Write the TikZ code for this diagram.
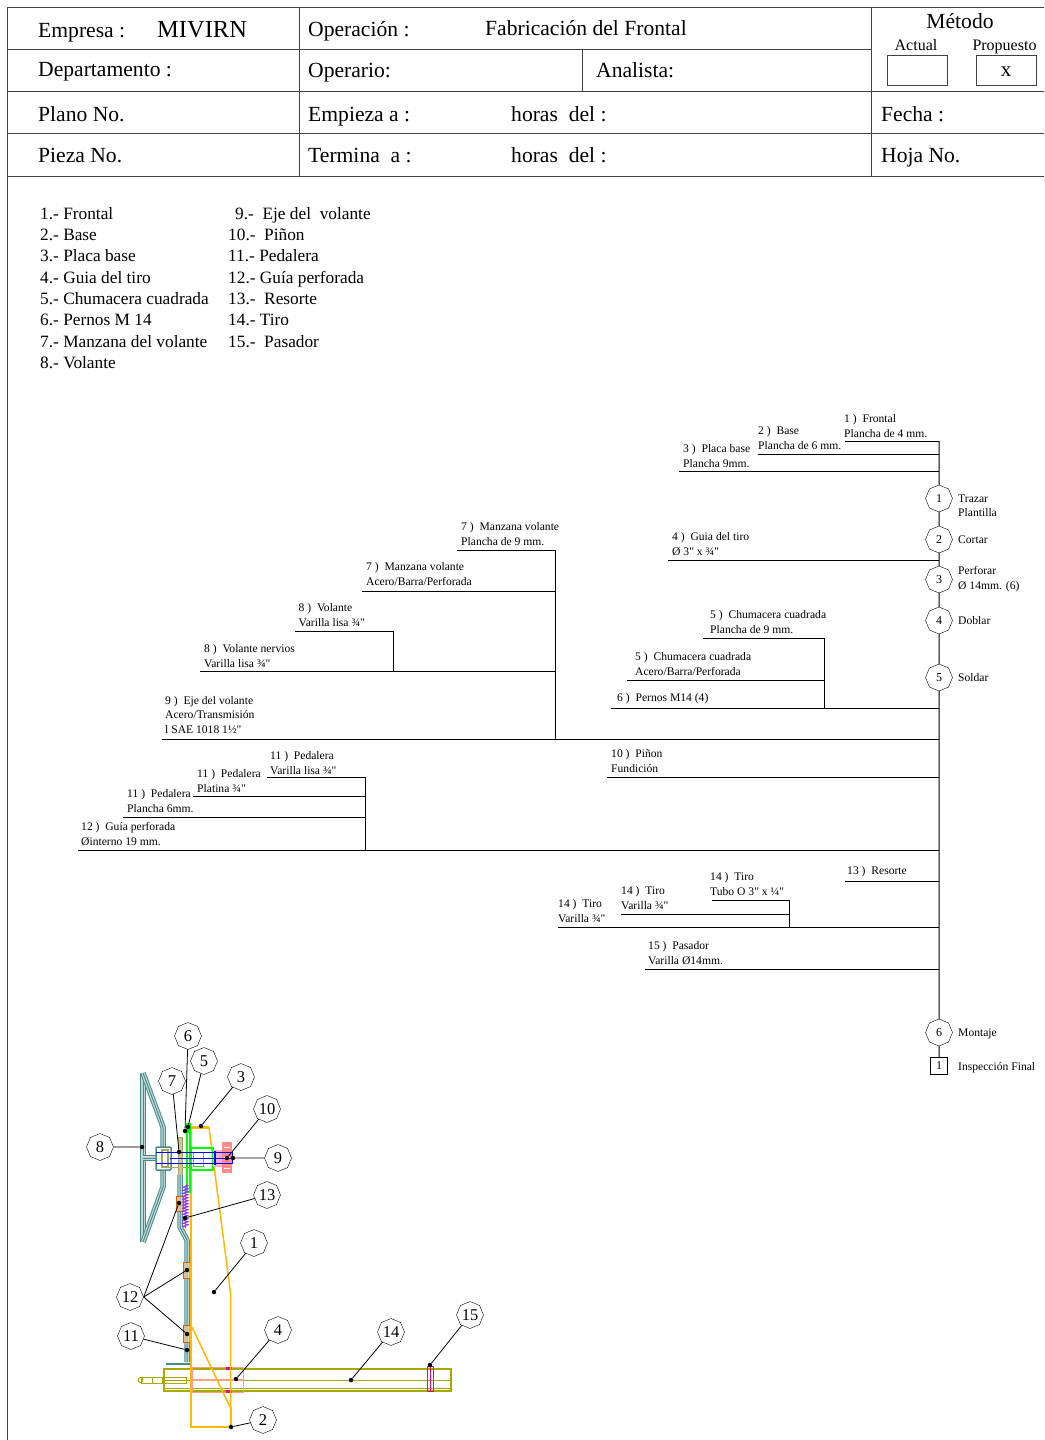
\documentclass[tikz,border=0pt]{standalone}
\usepackage{fontspec}
\setmainfont[Ligatures=TeXOff]{Liberation Serif}
\usetikzlibrary{shapes.geometric,decorations.pathmorphing}
\definecolor{naranja}{HTML}{FFB900}
\definecolor{verdeazul}{HTML}{4A8C8C}
\definecolor{oliva}{HTML}{A8A800}
\definecolor{olivaclaro}{HTML}{A5A560}
\definecolor{salmon}{HTML}{FFA080}
\definecolor{rojizo}{HTML}{FF8A8A}
\definecolor{rosado}{HTML}{FFB0D8}
\definecolor{resorte}{HTML}{9A30F0}
\newcommand{\riel}[2][5.5pt]{%
    \draw[verdeazul, line width=#1, line join=round] #2;
    \draw[verdeazul!35, line width=#1-2pt, line join=round] #2;
    \draw[verdeazul, line width=1pt, line join=round] #2;}
\tikzset{
    celda/.style={draw=black!75, line width=1pt},
    cab/.style={anchor=base west, inner sep=0pt, font=\fontsize{21.6}{24}\selectfont},
    titulo/.style={anchor=base, inner sep=0pt, font=\fontsize{16}{18}\selectfont},
    lista/.style={anchor=base west, inner sep=0pt, font=\fontsize{17.3}{20}\selectfont},
    etq/.style={anchor=west, inner sep=0pt, align=left, font=\fontsize{11.6}{14.5}\selectfont},
    oper/.style={draw, regular polygon, regular polygon sides=8, shape border rotate=22.5, minimum size=27pt, inner sep=0pt, fill=white, font=\fontsize{12}{14}\selectfont},
    marca/.style={draw, regular polygon, regular polygon sides=8, shape border rotate=22.5, minimum size=27pt, inner sep=0pt, font=\fontsize{16.5}{18}\selectfont},
    pto/.style={circle, fill=black, inner sep=0pt, minimum size=4.5pt},
    guia/.style={draw=black, line width=0.8pt},
    flujo/.style={draw=black, line width=1pt}
}
\begin{document}
\begin{tikzpicture}[x=1pt, y=-1pt]
    \useasboundingbox (0,0) rectangle (1044,1440);

    % Cuadricula de la cabecera
    \draw[celda] (1044,7) -- (7,7) -- (7,1440);
    \draw[celda] (7,49) -- (871,49);
    \draw[celda] (7,91) -- (1044,91);
    \draw[celda] (7,133) -- (1044,133);
    \draw[celda] (7,176) -- (1044,176);
    \draw[celda] (299,7) -- (299,176);
    \draw[celda] (871,7) -- (871,176);
    \draw[celda] (582,49) -- (582,91);

    % Textos de la cabecera
    \node[cab] (tEmpresa) at (38,37) {Empresa :};
    \node[cab, font=\fontsize{24.5}{26}\selectfont] (tMivirn) at (157,37) {MIVIRN};
    \node[cab] (tOperacion) at (308,36) {Operación :};
    \node[cab] (tFabrica) at (485,35) {Fabricación del Frontal};
    \node[cab, anchor=base] (tMetodo) at (960,28) {Método};
    \node[titulo] (tActual) at (916,50) {Actual};
    \node[titulo] (tProp) at (1004.5,50) {Propuesto};
    \node[draw=black!75, minimum width=60pt, minimum height=30pt, inner sep=0pt] (bActual) at (917,70) {};
    \node[draw=black!75, minimum width=60pt, minimum height=30pt, inner sep=0pt] (bProp) at (1006,70) {};
    \node[anchor=base, inner sep=0pt, font=\fontsize{21}{22}\selectfont] (tEquis) at (1006,76.5) {x};
    \node[cab] (tDepto) at (38,76) {Departamento :};
    \node[cab] (tOperario) at (308,77) {Operario:};
    \node[cab] (tAnalista) at (596,77) {Analista:};
    \node[cab] (tPlano) at (38,121) {Plano No.};
    \node[cab] (tEmpieza) at (308,121) {Empieza a :};
    \node[cab] (tHoras) at (511,121) {horas\ \ del :};
    \node[cab] (tFecha) at (881,121) {Fecha :};
    \node[cab] (tPieza) at (38,162) {Pieza No.};
    \node[cab] (tTermina) at (308,162) {Termina\ \ a :};
    \node[cab] (tHorasb) at (511,162) {horas\ \ del :};
    \node[cab] (tHoja) at (881,162) {Hoja No.};

    % Lista de piezas
    \foreach \n/\x/\y/\t in {a/40/219/{1.- Frontal}, b/40/240/{2.- Base}, c/40/261/{3.- Placa base}, d/40/283/{4.- Guia del tiro},
        e/40/304/{5.- Chumacera cuadrada}, f/40/325/{6.- Pernos M 14}, g/40/347/{7.- Manzana del volante}, h/40/368/{8.- Volante},
        i/235/219/{9.-\ \ Eje del\ \ volante}, j/228/240/{10.-\ \ Piñon}, k/228/261/{11.- Pedalera}, l/228/283/{12.- Guía perforada},
        m/228/304/{13.-\ \ Resorte}, n/228/325/{14.- Tiro}, o/228/347/{15.-\ \ Pasador}}
        \node[lista] (p\n) at (\x,\y) {\t};

    % Operaciones sobre el tronco
    \coordinate (arranque) at (939,441);
    \node[oper] (op1) at (939,498.5) {1};
    \node[oper] (op2) at (939,539.5) {2};
    \node[oper] (op3) at (939,579.5) {3};
    \node[oper] (op4) at (939,620.5) {4};
    \node[oper] (op5) at (939,677.5) {5};
    \node[oper] (op6) at (939,1032.5) {6};
    \node[draw, minimum size=17pt, inner sep=0pt, font=\fontsize{12}{14}\selectfont] (insp) at (939,1065.5) {1};
    \draw[flujo] (arranque) -- (op1);
    \draw[flujo] (op1) -- (op2);
    \draw[flujo] (op2) -- (op3);
    \draw[flujo] (op3) -- (op4);
    \draw[flujo] (op4) -- (op5);
    \draw[flujo] (op5) -- (op6);
    \draw[flujo] (op6) -- (insp);

    \node[etq] (oTrazar) at (958,506) {Trazar\\Plantilla};
    \node[etq] (oCortar) at (958,540) {Cortar};
    \node[etq] (oPerforar) at (958,579) {Perforar\\Ø 14mm. (6)};
    \node[etq] (oDoblar) at (958,621) {Doblar};
    \node[etq] (oSoldar) at (958,678) {Soldar};
    \node[etq] (oMontaje) at (958,1034) {Montaje};
    \node[etq] (oInsp) at (958,1068) {Inspección Final};

    % Extremos libres de las lineas de material
    \coordinate (m1) at (845,441);
    \coordinate (m2) at (758,454);
    \coordinate (m3) at (679,471);
    \coordinate (m4) at (668,560);
    \coordinate (m5) at (703,638);
    \coordinate (m5b) at (627,680);
    \coordinate (m6) at (611,708);
    \coordinate (m7) at (457,550);
    \coordinate (m7b) at (362,591);
    \coordinate (m8) at (295,631);
    \coordinate (m8b) at (200,671);
    \coordinate (m9) at (162,739);
    \coordinate (m10) at (607,777);
    \coordinate (m11) at (267,777);
    \coordinate (m11b) at (193,796);
    \coordinate (m11c) at (123,817);
    \coordinate (m12) at (78,850);
    \coordinate (m13) at (845,881);
    \coordinate (m14) at (712,900);
    \coordinate (m14b) at (621,914);
    \coordinate (m14c) at (558,927);
    \coordinate (m15) at (645,969);

    % Ramales que llegan al tronco
    \foreach \m in {m1,m2,m3,m4,m6,m9,m10,m12,m13,m14c,m15}
        \draw[flujo] (\m) -- (\m -| op1);

    % Sub-ramales
    \coordinate (r5) at (824,638);
    \coordinate (r7) at (555,550);
    \coordinate (r8) at (393,631);
    \coordinate (r11) at (365,777);
    \coordinate (r14) at (789,900);
    \draw[flujo] (m5) -- (r5) -- (r5 |- m6);
    \draw[flujo] (m5b) -- (m5b -| r5);
    \draw[flujo] (m7) -- (r7) -- (r7 |- m9);
    \draw[flujo] (m7b) -- (m7b -| r7);
    \draw[flujo] (m8) -- (r8) -- (r8 |- m8b);
    \draw[flujo] (m8b) -- (m8b -| r7);
    \draw[flujo] (m11) -- (r11) -- (r11 |- m12);
    \draw[flujo] (m11b) -- (m11b -| r11);
    \draw[flujo] (m11c) -- (m11c -| r11);
    \draw[flujo] (m14) -- (r14) -- (r14 |- m14c);
    \draw[flujo] (m14b) -- (m14b -| r14);

    % Rotulos de los materiales
    \node[etq] (e1) at (844,426) {1 ) \ Frontal\\Plancha de 4 mm.};
    \node[etq] (e2) at (758,438) {2 ) \ Base\\Plancha de 6 mm.};
    \node[etq] (e3) at (683,456) {3 ) \ Placa base\\Plancha 9mm.};
    \node[etq] (e4) at (672,544) {4 ) \ Guia del tiro\\Ø 3" x ¾"};
    \node[etq] (e5) at (710,622) {5 ) \ Chumacera cuadrada\\Plancha de 9 mm.};
    \node[etq] (e5b) at (635,664) {5 ) \ Chumacera cuadrada\\Acero/Barra/Perforada};
    \node[etq] (e6) at (617,699) {6 ) \ Pernos M14 (4)};
    \node[etq] (e7) at (461,534) {7 ) \ Manzana volante\\Plancha de 9 mm.};
    \node[etq] (e7b) at (366,574) {7 ) \ Manzana volante\\Acero/Barra/Perforada};
    \node[etq] (e8) at (298.5,615) {8 ) \ Volante\\Varilla lisa ¾"};
    \node[etq] (e8b) at (204,656) {8 ) \ Volante nervios\\Varilla lisa ¾"};
    \node[etq] (e9) at (165,715) {9 ) \ Eje del volante\\Acero/Transmisión\\l SAE 1018 1½"};
    \node[etq] (e10) at (611,761) {10 ) \ Piñon\\Fundición};
    \node[etq] (e11) at (270,763) {11 ) \ Pedalera\\Varilla lisa ¾"};
    \node[etq] (e11b) at (197,781) {11 ) \ Pedalera\\Platina ¾"};
    \node[etq] (e11c) at (127,801) {11 ) \ Pedalera\\Plancha 6mm.};
    \node[etq] (e12) at (81,834) {12 ) \ Guía perforada\\Øinterno 19 mm.};
    \node[etq] (e13) at (847,872) {13 ) \ Resorte};
    \node[etq] (e14) at (710,884) {14 ) \ Tiro\\Tubo O 3" x ¼"};
    \node[etq] (e14b) at (621,898) {14 ) \ Tiro\\Varilla ¾"};
    \node[etq] (e14c) at (558,911) {14 ) \ Tiro\\Varilla ¾"};
    \node[etq] (e15) at (648,953) {15 ) \ Pasador\\Varilla Ø14mm.};

    % Volante
    \riel{(143,1073) -- (143,1242)}
    \riel{(143,1073) -- (163,1127) -- (163,1147)}
    \riel{(163,1170) -- (163,1187) -- (143,1242)}
    \riel{(143,1158) -- (156,1158)}
    \draw[verdeazul, line width=1.5pt, rounded corners=1pt] (156,1147) rectangle (171,1170);
    \draw[olivaclaro, line width=1.2pt] (162,1150) rectangle (168,1167);
    \draw[olivaclaro, line width=1pt] (168,1152) rectangle (190,1167);
    \draw[olivaclaro, fill=olivaclaro!60, line width=0.8pt] (178,1137) rectangle (182,1175);

    % Guia perforada y tiro
    \riel{(180,1175) -- (180,1227) -- (187,1240) -- (187,1362)}
    \draw[verdeazul, line width=1.8pt] (166,1364) -- (190,1364);
    \draw[orange!80!black, fill=orange!40, fill opacity=0.6] (176,1196) rectangle (183,1211);
    \draw[orange!80!black, fill=orange!40, fill opacity=0.6] (183,1262) rectangle (191,1278);
    \draw[orange!80!black, fill=orange!40, fill opacity=0.6] (183,1325) rectangle (190,1342);

    % Tubo, varilla y chapa
    \draw[oliva, line width=1.1pt] (164,1369) rectangle (451,1391);
    \draw[oliva, line width=1pt] (164,1380) -- (451,1380);
    \draw[oliva, line width=1pt] (164,1388) -- (451,1388);
    \draw[oliva, line width=1pt] (141,1377) rectangle (186,1383);
    \draw[oliva, line width=1pt] (140.5,1380) circle (2.5);
    \draw[oliva, line width=0.8pt] (152,1377) -- (152,1383);
    \draw[oliva, line width=0.8pt] (162,1377) -- (162,1383);
    \draw[salmon, line width=1pt] (192,1367) rectangle (243,1392);
    \draw[salmon, line width=1.8pt] (192,1380) -- (243,1380);
    \draw[magenta, line width=1pt] (427,1366) rectangle (433,1391);
    \draw[magenta, line width=1pt] (430,1366) -- (430,1391);
    \fill[magenta] (226,1367) rectangle (232,1369.5);
    \fill[magenta] (226,1390) rectangle (232,1392.5);

    % Frontal y base
    \draw[naranja, line width=1.5pt] (209,1127.5) -- (230.5,1293) -- (230.5,1427);
    \draw[naranja, line width=2.8pt] (190.5,1127.5) -- (209,1127.5);
    \draw[naranja, line width=2.8pt] (191,1127.5) -- (191,1427) -- (231,1427);
    \draw[naranja, line width=1.5pt] (192,1327) -- (230,1407);
    \draw[naranja, line width=2.8pt] (231,1407) -- (231,1427);

    % Chumacera, eje y pinon
    \draw[green, line width=1.1pt] (187,1124) rectangle (190,1192);
    \fill[green] (186,1124) rectangle (191,1133);
    \draw[green, line width=1.1pt] (191,1148) rectangle (213,1170);
    \draw[green, line width=1pt] (193,1152) rectangle (203,1166);
    \fill[rosado] (213,1150) rectangle (223,1167);
    \fill[rojizo] (222,1142) rectangle (232,1173);
    \foreach \y in {1147,1152,1157,1163,1168}
        \draw[white, line width=0.6pt] (224,\y) -- (230,\y);
    \draw[blue, line width=0.9pt] (156,1152) -- (232,1152) -- (232,1163) -- (156,1163);
    \draw[blue, line width=0.9pt] (170,1158) -- (232,1158);
    \fill[blue] (214,1151) rectangle (216,1165);

    % Resorte
    \draw[resorte, line width=1pt, decorate, decoration={zigzag, segment length=3pt, amplitude=2.5pt}] (185.5,1185) -- (185.5,1228);

    % Marcas del plano
    \node[marca] (n1) at (254,1243) {1};
    \node[marca] (n2) at (263,1420) {2};
    \node[marca] (n3) at (241,1077) {3};
    \node[marca] (n4) at (278,1330) {4};
    \node[marca] (n5) at (204,1061) {5};
    \node[marca] (n6) at (188,1036) {6};
    \node[marca] (n7) at (172,1081) {7};
    \node[marca] (n8) at (100,1147) {8};
    \node[marca] (n9) at (278,1158) {9};
    \node[marca] (n10) at (267,1109) {10};
    \node[marca] (n11) at (131,1336) {11};
    \node[marca] (n12) at (130,1297) {12};
    \node[marca] (n13) at (267,1195) {13};
    \node[marca] (n14) at (391,1332) {14};
    \node[marca] (n15) at (470,1315) {15};

    % Puntos de referencia
    \node[pto] (d1) at (214,1292) {};
    \node[pto] (d2) at (231,1427) {};
    \node[pto] (d3) at (201,1126) {};
    \node[pto] (d4) at (236,1379) {};
    \node[pto] (d5) at (188,1127) {};
    \node[pto] (d6) at (185,1131) {};
    \node[pto] (d7) at (179,1152) {};
    \node[pto] (d8) at (142,1147) {};
    \node[pto] (d9) at (233,1158) {};
    \node[pto] (d10) at (227,1158) {};
    \node[pto] (d11) at (187,1350) {};
    \node[pto] (d12a) at (179,1203) {};
    \node[pto] (d12b) at (187,1270) {};
    \node[pto] (d12c) at (187,1334) {};
    \node[pto] (d13) at (185,1218) {};
    \node[pto] (d14) at (351,1380) {};
    \node[pto] (d15) at (430,1365) {};

    % Lineas de referencia
    \foreach \n in {1,2,3,4,5,6,7,9,10,11,13,14,15}
        \draw[guia] (n\n) -- (d\n);
    \draw[guia, black!60, line width=1.2pt] (n8) -- (d8);
    \draw[guia] (n12.east) -- (d12a);
    \draw[guia] (n12.east) -- (d12b);
    \draw[guia] (n12.east) -- (d12c);
\end{tikzpicture}
\end{document}
